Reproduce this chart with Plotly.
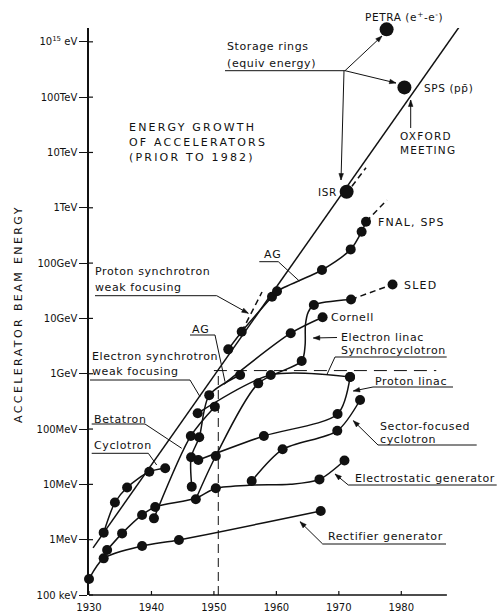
import math
import plotly.graph_objects as go

# ---------------------------------------------------------------------------
# Accelerator beam energy (eV) against year of commissioning
# ---------------------------------------------------------------------------
rect_year = [1930.0, 1932.35, 1938.5, 1944.4, 1967.1]
rect_energy = [1.95e5, 4.6e5, 7.7e5, 9.9e5, 3.3e6]

estat_year = [1932.9, 1935.3, 1938.5, 1940.6, 1947.1, 1950.3, 1956.1, 1962.2, 1966.9, 1970.9]
estat_energy = [6.5e5, 1.3e6, 2.8e6, 3.9e6, 5.6e6, 8.5e6, 9.7e6, 1.0e7, 1.23e7, 2.7e7]
estat_dots = [1, 1, 1, 1, 0, 1, 0, 0, 1, 1]

cyc_year = [1932.35, 1934.15, 1936.1, 1939.65, 1942.2]
cyc_energy = [1.34e6, 4.7e6, 8.8e6, 1.69e7, 1.95e7]

beta_year = [1940.4, 1946.3, 1950.15]
beta_energy = [2.43e6, 7.5e7, 2.54e8]

esync_year = [1946.45, 1946.35, 1947.65, 1949.25, 1954.2]
esync_energy = [9.1e6, 3.1e7, 7.1e7, 4.1e8, 9.5e8]
esync_ag_year = [1951.6, 1962.3, 1967.4]
esync_ag_energy = [6.5e8, 5.4e9, 1.05e10]
esync_ag_dots = [0, 1, 1]

synchro_year = [1947.4, 1959.1, 1971.8]
synchro_energy = [1.93e8, 9.5e8, 8.7e8]

plinac_year = [1947.5, 1958.0, 1969.8, 1971.8]
plinac_energy = [2.75e7, 7.5e7, 1.87e8, 8.7e8]

sector_year = [1956.05, 1961.0, 1969.75, 1973.4]
sector_energy = [1.15e7, 4.3e7, 9.3e7, 3.35e8]

elinac_year = [1947.1, 1950.3, 1957.1, 1964.05, 1964.6, 1964.65, 1965.1, 1966.0, 1971.95]
elinac_energy = [5.4e6, 3.26e7, 6.7e8, 1.7e9, 3.3e9, 7.6e9, 1.3e10, 1.75e10, 2.2e10]
elinac_dots = [1, 1, 1, 1, 0, 0, 0, 1, 1]
sled_year = [1971.95, 1978.6]
sled_energy = [2.2e10, 4.1e10]
sled_dots = [0, 1]

psync_year = [1952.3, 1954.45, 1959.3, 1960.1, 1967.3, 1971.9, 1973.65, 1974.35]
psync_energy = [2.76e9, 5.75e9, 2.47e10, 3.1e10, 7.5e10, 1.77e11, 3.7e11, 5.6e11]
psync_weak_year = [1954.45, 1957.7]
psync_weak_energy = [5.75e9, 3.0e10]
tevatron_year = [1974.35, 1977.7]
tevatron_energy = [5.6e11, 1.38e12]

# storage rings, equivalent fixed-target energy
ring_names = ["ISR", "PETRA", "SPS"]
ring_year = [1971.25, 1977.65, 1980.5]
ring_energy = [1.95e12, 1.68e15, 1.5e14]
isr_trend_year = [1972.1, 1974.35]
isr_trend_energy = [2.45e12, 5.3e12]

# overall exponential growth line
trend_year = [1930.65, 1989.6]
trend_energy = [7.1e5, 2.1e15]

ag_year = 1950.7          # vertical dashed marker
sc_limit = 1.14e9         # horizontal dashed level
sc_limit_years = [1950.0, 1985.6]

y_tickvals = [1e5, 1e6, 1e7, 1e8, 1e9, 1e10, 1e11, 1e12, 1e13, 1e14, 1e15]
y_ticktext = ["100 keV", "1MeV", "10MeV", "100MeV", "1GeV", "10GeV",
              "100GeV", "1TeV", "10TeV", "100TeV", "10<sup>15</sup> eV"]
x_tickvals = [1930, 1940, 1950, 1960, 1970, 1980]
x_range = [1930, 1991]
y_range = [5, 15.25]
x_axis_end = 1987.3

# ---------------------------------------------------------------------------
FIG_W, FIG_H = 499, 616
M_L, M_R, M_T, M_B = 89, 29, 28, 21
INK = "#111111"
FONT = "DejaVu Sans"
DOT = 10
SHORT_DASH = "6px,4px"


def fx(px):
    return (px - M_L) / (FIG_W - M_L - M_R)


def fy(py):
    return (FIG_H - M_B - py) / (FIG_H - M_T - M_B)


fig = go.Figure()


def line(years, energies, dash="solid", width=1.5, smooth=False):
    fig.add_trace(go.Scatter(
        x=years, y=energies, mode="lines",
        line=dict(color=INK, width=width, dash=dash,
                  shape="spline" if smooth else "linear", smoothing=0.8),
        hoverinfo="skip", showlegend=False))


def dots(years, energies, flags=None, size=DOT):
    if flags is None:
        flags = [1] * len(years)
    xs = [x for x, f in zip(years, flags) if f]
    ys = [y for y, f in zip(energies, flags) if f]
    fig.add_trace(go.Scatter(
        x=xs, y=ys, mode="markers",
        marker=dict(color=INK, size=size, opacity=1, line=dict(width=0)),
        cliponaxis=False, hoverinfo="skip", showlegend=False))


def curve(years, energies, flags=None, dash="solid"):
    line(years, energies, dash=dash, smooth=True)
    dots(years, energies, flags)


line(trend_year, trend_energy, width=1.5)
line([ag_year, ag_year], [10 ** y_range[0], sc_limit], dash="9px,5px", width=1.0)
line(sc_limit_years, [sc_limit, sc_limit], dash="13px,7px", width=1.0)

curve(rect_year, rect_energy)
curve(estat_year, estat_energy, estat_dots)
curve(cyc_year, cyc_energy)
curve(beta_year, beta_energy)
curve(esync_year, esync_energy)
curve(esync_ag_year, esync_ag_energy, esync_ag_dots)
curve(synchro_year, synchro_energy)
curve(plinac_year, plinac_energy)
curve(sector_year, sector_energy)
curve(elinac_year, elinac_energy, elinac_dots)
curve(sled_year, sled_energy, sled_dots, dash=SHORT_DASH)
curve(psync_year, psync_energy)
line(psync_weak_year, psync_weak_energy, dash=SHORT_DASH)
line(tevatron_year, tevatron_energy, dash=SHORT_DASH)
line(isr_trend_year, isr_trend_energy, dash=SHORT_DASH)
dots(ring_year, ring_energy, size=14)


def xfrac(year):
    return (year - x_range[0]) / (x_range[1] - x_range[0])


def yfrac(energy):
    return (math.log10(energy) - y_range[0]) / (y_range[1] - y_range[0])


PLOT_W = FIG_W - M_L - M_R
PLOT_H = FIG_H - M_T - M_B

# bottom axis line and its short upward ticks; inner halves of the energy ticks
shapes = [dict(type="line", xref="paper", yref="paper",
               x0=0, x1=xfrac(x_axis_end), y0=0, y1=0,
               line=dict(color=INK, width=1.5))]
for yr in x_tickvals:
    shapes.append(dict(type="line", xref="paper", yref="paper",
                       x0=xfrac(yr), x1=xfrac(yr), y0=0, y1=4 / PLOT_H,
                       line=dict(color=INK, width=1.2)))
for v in y_tickvals:
    shapes.append(dict(type="line", xref="paper", yref="paper",
                       x0=0, x1=4 / PLOT_W, y0=yfrac(v), y1=yfrac(v),
                       line=dict(color=INK, width=1.2)))

annotations = []


def text(px, py, s, size=11, anchor="left", spacing=0.6):
    annotations.append(dict(
        x=fx(px), y=fy(py), xref="paper", yref="paper", showarrow=False,
        xanchor=anchor, yanchor="middle",
        text=f'<span style="letter-spacing:{spacing}px">{s}</span>',
        font=dict(family=FONT, size=size, color=INK)))


def rule(x0, y0, x1, y1, width=1.0):
    shapes.append(dict(type="line", xref="paper", yref="paper",
                       x0=fx(x0), y0=fy(y0), x1=fx(x1), y1=fy(y1),
                       line=dict(color=INK, width=width)))


def arrow(tx, ty, sx, sy, length=6.5, half=2.3):
    """Leader from (sx, sy) to (tx, ty) in pixels, with a filled head at the tip."""
    rule(sx, sy, tx, ty)
    d = math.hypot(tx - sx, ty - sy)
    ux, uy = (tx - sx) / d, (ty - sy) / d
    bx, by = tx - ux * length, ty - uy * length
    nx, ny = -uy * half, ux * half
    pts = [(tx, ty), (bx + nx, by + ny), (bx - nx, by - ny)]
    path = "M " + " L ".join(f"{fx(x):.5f},{fy(y):.5f}" for x, y in pts) + " Z"
    shapes.append(dict(type="path", xref="paper", yref="paper", path=path,
                       fillcolor=INK, line=dict(color=INK, width=0.5)))


# title block
text(127, 127, "ENERGY GROWTH", spacing=2.2)
text(127, 142, "OF ACCELERATORS", spacing=2.2)
text(127, 157, "(PRIOR TO 1982)", spacing=2.2)

# storage rings
text(225, 46, "Storage rings")
text(225, 63, "(equiv energy)")
rule(225, 70.7, 345, 70.7)
arrow(382, 36, 345, 70.7)
arrow(396, 83, 345, 70.7)
arrow(341, 180, 344, 70.7)
text(363, 17, "PETRA (e<sup>+</sup>-e<sup>-</sup>)", size=10.5)
text(422, 88, "SPS (pp\u0304)", size=10.5)
text(398, 136, "OXFORD", size=10.5, spacing=1.2)
text(398, 150, "MEETING", size=10.5, spacing=1.2)
arrow(410.7, 100, 410.7, 128)
text(339, 191.5, "ISR", anchor="right", size=10.5)

# curve labels
text(376, 222.7, "FNAL, SPS", spacing=1.2)
text(401.7, 285, "SLED", spacing=1.2)
text(329.3, 317.3, "Cornell")
text(339.3, 337.3, "Electron linac")
arrow(313.3, 338, 337, 337.5)
text(339.3, 350.7, "Synchrocyclotron")
rule(335, 357, 446.7, 357)
rule(335, 357, 326.7, 375)
text(373.3, 381.7, "Proton linac")
rule(373, 387, 453, 387)
arrow(353.3, 391, 373, 387)
text(378.3, 426, "Sector-focused")
text(378.3, 439.3, "cyclotron")
rule(378, 445, 476.7, 445)
arrow(353.3, 420.7, 378, 445)
text(353.3, 478.3, "Electrostatic generator")
rule(348.3, 485, 496.7, 485)
arrow(335, 474, 348.3, 485)
text(326, 536, "Rectifier generator")
rule(322.7, 544, 446, 544)
arrow(300, 521.7, 322.7, 544)

text(91.7, 419, "Betatron")
rule(91.7, 424, 145, 424)
rule(145, 424, 181.7, 448.3)
text(91.7, 445.7, "Cyclotron")
rule(91.7, 453.3, 148.3, 453.3)
rule(148.3, 453.3, 156.7, 465)

text(90, 356.7, "Electron synchrotron")
text(90, 371.7, "weak focusing")
rule(90, 380, 190, 380)
rule(190, 380, 200, 396.7)

text(93, 271.7, "Proton synchrotron")
text(93, 287.3, "weak focusing")
rule(95, 295.7, 216.7, 295.7)
arrow(248.3, 313.3, 216.7, 295.7)

text(190, 329.3, "AG", spacing=1)
rule(190, 335, 215, 335)
rule(215, 335, 225, 381.7)
text(261.7, 254, "AG", spacing=1)
rule(259.3, 261.7, 278.3, 261.7)
rule(278.3, 261.7, 299.3, 281)

# vertical axis title
annotations.append(dict(
    x=fx(18), y=fy(314), xref="paper", yref="paper", showarrow=False,
    textangle=-90, xanchor="center", yanchor="middle",
    text='<span style="letter-spacing:2.4px">ACCELERATOR BEAM ENERGY</span>',
    font=dict(family=FONT, size=11, color=INK)))

fig.update_layout(
    width=FIG_W, height=FIG_H,
    margin=dict(l=M_L, r=M_R, t=M_T, b=M_B, pad=0, autoexpand=False),
    paper_bgcolor="white", plot_bgcolor="white",
    shapes=shapes, annotations=annotations,
    font=dict(family=FONT, size=10, color=INK),
    xaxis=dict(range=x_range, showgrid=False, zeroline=False, showline=False,
               automargin=False,
               tickvals=x_tickvals, ticks="outside", ticklen=3,
               tickcolor="rgba(0,0,0,0)",
               tickfont=dict(family=FONT, size=10, color=INK)),
    yaxis=dict(type="log", range=y_range, showgrid=False, zeroline=False,
               showline=True, linecolor=INK, linewidth=1.5, automargin=False,
               tickvals=y_tickvals, ticktext=y_ticktext,
               ticks="outside", ticklen=8, tickcolor=INK,
               tickfont=dict(family=FONT, size=10, color=INK)),
)

fig.write_html("out.html")
